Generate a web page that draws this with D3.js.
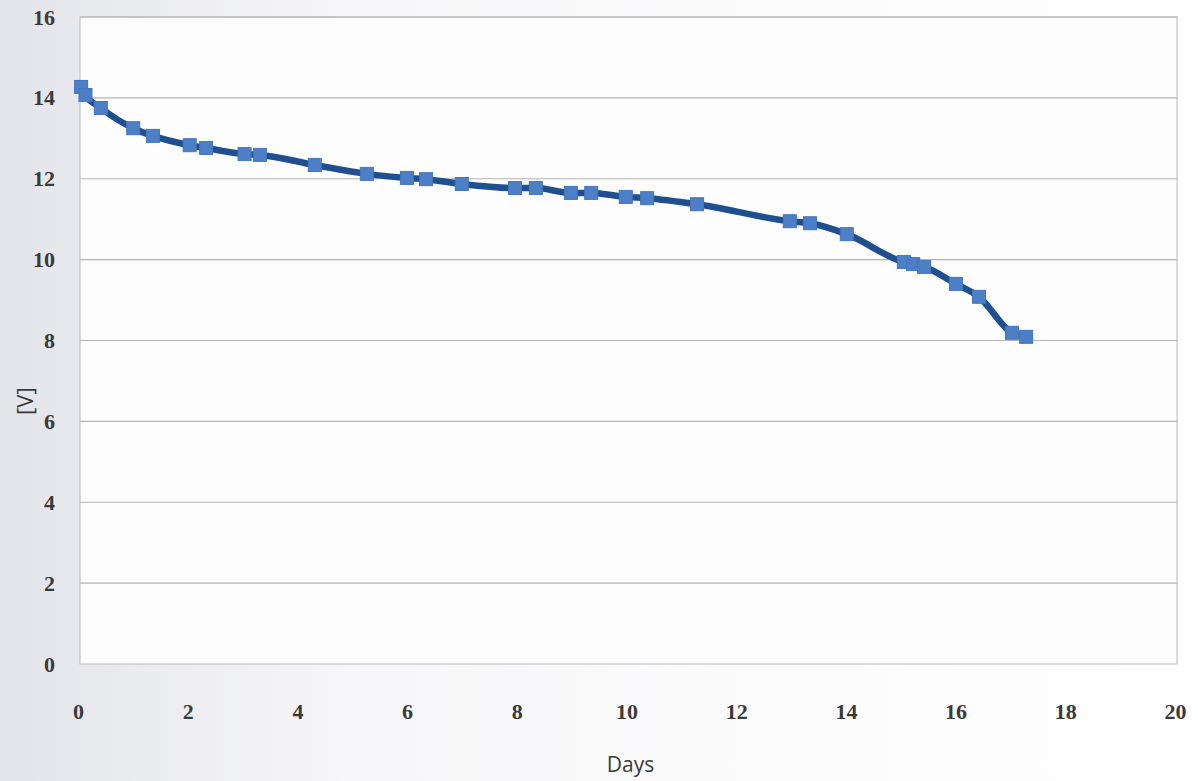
<!DOCTYPE html>
<html>
<head>
<meta charset="utf-8">
<script src="https://cdn.jsdelivr.net/npm/d3@7"></script>
<style>
html,body{margin:0;padding:0;background:#fff;}
svg{display:block;}
</style>
</head>
<body>
<svg id="chart" width="1198" height="781"></svg>
<script>
const days = [0.02, 0.1, 0.38, 0.97, 1.33, 2.0, 2.3, 3.0, 3.28, 4.28, 5.23, 5.96, 6.31, 6.96, 7.93, 8.31, 8.95, 9.32, 9.95, 10.34, 11.25, 12.94, 13.31, 13.98, 15.02, 15.19, 15.39, 15.97, 16.39, 16.99, 17.25];
const volts = [14.27, 14.07, 13.75, 13.25, 13.06, 12.83, 12.76, 12.61, 12.59, 12.34, 12.12, 12.02, 11.99, 11.87, 11.77, 11.77, 11.65, 11.65, 11.55, 11.52, 11.37, 10.95, 10.9, 10.63, 9.94, 9.89, 9.82, 9.4, 9.08, 8.19, 8.09];
const xTicks = [0, 2, 4, 6, 8, 10, 12, 14, 16, 18, 20];
const yTicks = [0, 2, 4, 6, 8, 10, 12, 14, 16];
const xLabel = "Days";
const yLabel = "[V]";

const svg = d3.select("#chart");
const W = 1198, H = 781;
const m = {left: 80, right: 21, top: 17, bottom: 117};

const defs = svg.append("defs");
const grad = defs.append("linearGradient").attr("id", "bg").attr("x1", "0").attr("x2", "1").attr("y1", "0").attr("y2", "0");
grad.append("stop").attr("offset", "0").attr("stop-color", "#e3e4e9");
grad.append("stop").attr("offset", "0.3").attr("stop-color", "#f7f7f9");
grad.append("stop").attr("offset", "1").attr("stop-color", "#ffffff");
svg.append("rect").attr("width", W).attr("height", H).attr("fill", "url(#bg)");

const x = d3.scaleLinear().domain([0, 20]).range([m.left, W - m.right]);
const y = d3.scaleLinear().domain([0, 16]).range([H - m.bottom, m.top]);

// plot area
svg.append("rect")
  .attr("x", x(0)).attr("y", y(16))
  .attr("width", x(20) - x(0)).attr("height", y(0) - y(16))
  .attr("fill", "#fdfdfe").attr("stroke", "#c4c4c6").attr("stroke-width", 1.2);

// gridlines
svg.append("g").selectAll("line").data(yTicks.filter(t => t > 0)).join("line")
  .attr("x1", x(0)).attr("x2", x(20))
  .attr("y1", d => y(d)).attr("y2", d => y(d))
  .attr("stroke", "#b4b4b6").attr("stroke-width", 1.2);

// y axis labels
const yAxis = d3.axisLeft(y).tickValues(yTicks).tickSize(0).tickPadding(25).tickFormat(d3.format("d"));
const gy = svg.append("g").attr("transform", `translate(${x(0)},0)`).call(yAxis);
gy.select(".domain").remove();
gy.selectAll("text").attr("font-family", "'Liberation Serif', serif").attr("font-weight", "bold")
  .attr("font-size", 22).attr("fill", "#3a3a3a");

// x axis labels
const xAxis = d3.axisBottom(x).tickValues(xTicks).tickSize(0).tickPadding(39).tickFormat(d3.format("d"));
const gx = svg.append("g").attr("transform", `translate(0,${y(0)})`).call(xAxis);
gx.select(".domain").remove();
gx.selectAll("text").attr("font-family", "'Liberation Serif', serif").attr("font-weight", "bold")
  .attr("font-size", 22).attr("fill", "#3a3a3a").attr("dx", -2);

// axis titles
svg.append("text").attr("x", (x(0) + x(20)) / 2 + 2).attr("y", 772)
  .attr("text-anchor", "middle").attr("font-family", "'Open Sans', sans-serif")
  .attr("font-size", 21).attr("fill", "#3a3a3a").text(xLabel);
svg.append("text").attr("transform", `translate(33,${y(6.5)}) rotate(-90)`)
  .attr("text-anchor", "middle").attr("font-family", "'Open Sans', sans-serif")
  .attr("font-size", 22).attr("fill", "#3a3a3a").text(yLabel);

// line
const data = days.map((d, i) => ({d, v: volts[i]}));
const line = d3.line().x(p => x(p.d)).y(p => y(p.v)).curve(d3.curveMonotoneX);
svg.append("path").datum(data).attr("d", line)
  .attr("fill", "none").attr("stroke", "#1f4f8f").attr("stroke-width", 6.5)
  .attr("stroke-linejoin", "round").attr("stroke-linecap", "round");

// markers
const s = 13;
svg.append("g").selectAll("rect").data(data).join("rect")
  .attr("x", p => x(p.d) - s / 2).attr("y", p => y(p.v) - s / 2)
  .attr("width", s).attr("height", s)
  .attr("fill", "#4d7fc6").attr("stroke", "#4676be").attr("stroke-width", 1);
</script>
</body>
</html>
